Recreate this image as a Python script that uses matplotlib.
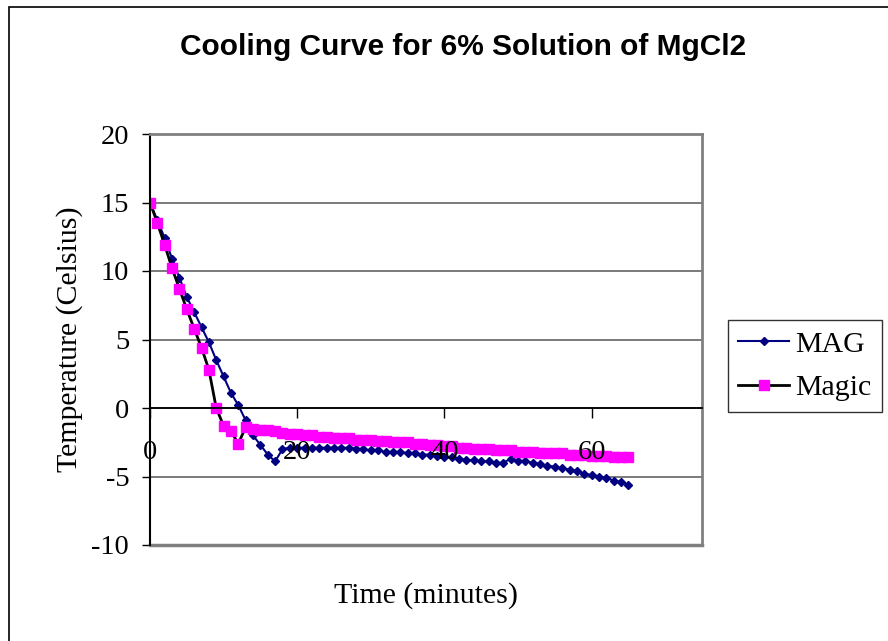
import numpy as np
import matplotlib
matplotlib.use("Agg")
import matplotlib.pyplot as plt
from matplotlib.patches import Rectangle

# ----------------------------
# Data (one reading per minute)
# ----------------------------

time_min = list(range(0, 66))

mag = [15.0, 13.7, 12.4, 10.9, 9.5, 8.1, 7.0, 5.9, 4.8, 3.5,
       2.3, 1.1, 0.2, -0.9, -2.0, -2.7, -3.4, -3.9, -3.0, -2.9,
       -2.9, -2.9, -2.9, -2.9, -2.9, -2.9, -2.9, -2.9, -3.0, -3.0,
       -3.1, -3.1, -3.2, -3.2, -3.2, -3.3, -3.3, -3.4, -3.4, -3.5,
       -3.6, -3.6, -3.7, -3.8, -3.8, -3.9, -3.9, -4.0, -4.0, -3.7,
       -3.9, -3.9, -4.0, -4.1, -4.2, -4.3, -4.4, -4.5, -4.6, -4.8,
       -4.9, -5.0, -5.1, -5.3, -5.4, -5.6]

magic = [15.0, 13.5, 11.9, 10.2, 8.7, 7.2, 5.8, 4.4, 2.8, 0.0,
         -1.3, -1.7, -2.6, -1.4, -1.5, -1.6, -1.6, -1.7, -1.8, -1.9,
         -1.9, -2.0, -2.0, -2.1, -2.1, -2.2, -2.2, -2.2, -2.3, -2.3,
         -2.3, -2.4, -2.4, -2.5, -2.5, -2.5, -2.6, -2.6, -2.7, -2.7,
         -2.8, -2.8, -2.9, -2.9, -3.0, -3.0, -3.0, -3.1, -3.1, -3.1,
         -3.2, -3.2, -3.2, -3.3, -3.3, -3.3, -3.3, -3.4, -3.4, -3.4,
         -3.5, -3.5, -3.5, -3.6, -3.6, -3.6]

x_ticks = [0, 20, 40, 60]
y_ticks = [-10, -5, 0, 5, 10, 15, 20]

SERIF = "Liberation Serif"
SANS = "Liberation Sans"

plt.rcParams["axes.unicode_minus"] = False

# ----------------------------
# Plot
# ----------------------------

fig = plt.figure(figsize=(8.88, 6.41), dpi=100)
ax = fig.add_axes([150/888, 1-545/641, 552/888, 411/641])

ax.plot(time_min, mag, color="#000080", lw=1.5, marker="D", markersize=4.5,
        markerfacecolor="#000080", markeredgecolor="#000080", label="MAG", zorder=2)
ax.plot(time_min, magic, color="black", lw=2, marker="s", markersize=6.5,
        markerfacecolor="#FF00FF", markeredgecolor="#FF00FF", label="Magic", zorder=2.2)

ax.set_xlim(0, 75)
ax.set_ylim(-10, 20)
ax.set_xticks(x_ticks)
ax.set_yticks(y_ticks)

# gridlines behind data, x axis crosses at zero
ax.yaxis.grid(True, color="#707070", lw=1.3)
ax.set_axisbelow(True)
ax.xaxis.set_zorder(3)

ax.spines["bottom"].set_position(("data", 0))
ax.spines["bottom"].set_color("black")
ax.spines["bottom"].set_linewidth(1.3)
ax.spines["left"].set_color("black")
ax.spines["left"].set_linewidth(1.5)
for s in ["top", "right"]:
    ax.spines[s].set_color("#808080")
    ax.spines[s].set_linewidth(2)
ax.axhline(-10, color="#808080", lw=2.5, clip_on=False, zorder=1)

ax.tick_params(axis="x", direction="out", length=7, width=1, pad=16,
               labelsize=20.5, colors="black")
ax.tick_params(axis="y", direction="out", length=6, width=1, pad=9,
               labelsize=20.5)
for lab in ax.get_xticklabels() + ax.get_yticklabels():
    lab.set_fontfamily(SERIF)

ax.set_ylabel("Temperature (Celsius)", fontsize=21.5, fontfamily=SERIF, labelpad=6)
fig.text(426/888, 1-596/641, "Time (minutes)", fontsize=21.5, fontfamily=SERIF,
         ha="center", va="center")
fig.text(463/888, 1-47/641, "Cooling Curve for 6% Solution of MgCl2", fontsize=21.5,
         fontfamily=SANS, fontweight="bold", ha="center", va="center")

leg = fig.legend(loc="center left", bbox_to_anchor=(728/888, 1-366/641),
                 prop={"family": SERIF, "size": 21.5}, frameon=True, fancybox=False,
                 edgecolor="black", handlelength=1.7, handletextpad=0.2,
                 borderpad=0.35, labelspacing=0.55, borderaxespad=0)
leg.get_frame().set_linewidth(1)

# outer chart frame (only left/top visible in the crop)
fig.patches.append(Rectangle((9/888, -0.2), 1.5, 0.2 + 1-7/641, transform=fig.transFigure,
                             fill=False, edgecolor="black", lw=1.2))

plt.savefig("out.png", dpi=100)
